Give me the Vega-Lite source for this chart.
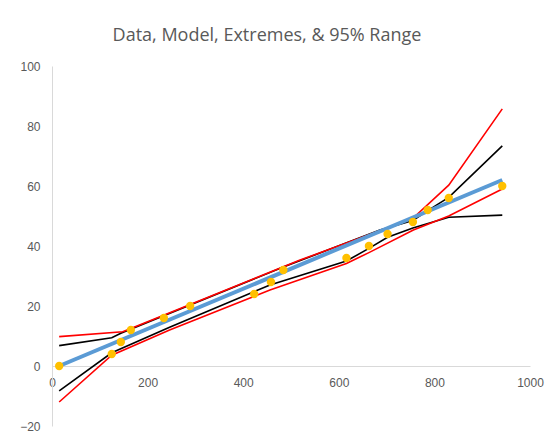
{
  "$schema": "https://vega.github.io/schema/vega-lite/v6.json",
  "width": 478,
  "height": 360,
  "autosize": {"type": "none"},
  "padding": {"left": 52, "top": 66, "right": 26, "bottom": 14},
  "background": "white",
  "title": {
    "text": "Data, Model, Extremes, & 95% Range",
    "font": "Open Sans",
    "fontSize": 18,
    "fontWeight": "normal",
    "color": "#595959",
    "anchor": "middle",
    "dx": -24,
    "offset": 15
  },
  "config": {
    "view": {"stroke": null},
    "axis": {
      "grid": false,
      "ticks": false,
      "domainColor": "#d9d9d9",
      "domainWidth": 1,
      "labelColor": "#595959",
      "labelFont": "Liberation Sans",
      "labelFontSize": 12,
      "labelFlush": false,
      "title": null
    }
  },
  "datasets": {
    "data": [
      {"x": 15, "y": 0}, {"x": 125, "y": 4}, {"x": 144, "y": 8}, {"x": 165, "y": 12},
      {"x": 234, "y": 16}, {"x": 289, "y": 20}, {"x": 423, "y": 24}, {"x": 458, "y": 28},
      {"x": 484, "y": 32}, {"x": 616, "y": 36}, {"x": 663, "y": 40}, {"x": 702, "y": 44},
      {"x": 755, "y": 48}, {"x": 786, "y": 52}, {"x": 830, "y": 56}, {"x": 942, "y": 60}
    ],
    "model": [
      {"x": 15, "y": 0}, {"x": 942, "y": 62}
    ],
    "bounds": [
      {"series": "Upper Extreme", "x": 15, "y": 6.8},
      {"series": "Upper Extreme", "x": 125, "y": 9.4},
      {"series": "Upper Extreme", "x": 144, "y": 10.9},
      {"series": "Upper Extreme", "x": 289, "y": 20.3},
      {"series": "Upper Extreme", "x": 484, "y": 33},
      {"series": "Upper Extreme", "x": 686, "y": 45.3},
      {"series": "Upper Extreme", "x": 755, "y": 48.5},
      {"series": "Upper Extreme", "x": 786, "y": 51.8},
      {"series": "Upper Extreme", "x": 830, "y": 56.2},
      {"series": "Upper Extreme", "x": 942, "y": 73.4},
      {"series": "Lower Extreme", "x": 15, "y": -8.3},
      {"series": "Lower Extreme", "x": 125, "y": 4.4},
      {"series": "Lower Extreme", "x": 246, "y": 12.9},
      {"series": "Lower Extreme", "x": 456, "y": 27},
      {"series": "Lower Extreme", "x": 616, "y": 35},
      {"series": "Lower Extreme", "x": 663, "y": 39.2},
      {"series": "Lower Extreme", "x": 702, "y": 42.9},
      {"series": "Lower Extreme", "x": 755, "y": 46},
      {"series": "Lower Extreme", "x": 830, "y": 49.6},
      {"series": "Lower Extreme", "x": 942, "y": 50.3},
      {"series": "Upper 95%", "x": 15, "y": 9.8},
      {"series": "Upper 95%", "x": 148, "y": 11.4},
      {"series": "Upper 95%", "x": 165, "y": 12.5},
      {"series": "Upper 95%", "x": 519, "y": 35.3},
      {"series": "Upper 95%", "x": 755, "y": 49.2},
      {"series": "Upper 95%", "x": 830, "y": 60.3},
      {"series": "Upper 95%", "x": 942, "y": 85.7},
      {"series": "Lower 95%", "x": 15, "y": -12},
      {"series": "Lower 95%", "x": 125, "y": 3.6},
      {"series": "Lower 95%", "x": 246, "y": 12},
      {"series": "Lower 95%", "x": 456, "y": 25.3},
      {"series": "Lower 95%", "x": 616, "y": 34.2},
      {"series": "Lower 95%", "x": 663, "y": 37.8},
      {"series": "Lower 95%", "x": 756, "y": 45.3},
      {"series": "Lower 95%", "x": 830, "y": 50},
      {"series": "Lower 95%", "x": 942, "y": 59}
    ]
  },
  "encoding": {
    "x": {
      "field": "x", "type": "quantitative",
      "scale": {"domain": [0, 1000], "nice": false},
      "axis": {"values": [0, 200, 400, 600, 800, 1000], "format": "d", "offset": -60, "labelPadding": 11}
    },
    "y": {
      "field": "y", "type": "quantitative",
      "scale": {"domain": [-20, 100], "nice": false},
      "axis": {"values": [-20, 0, 20, 40, 60, 80, 100], "format": "d", "labelPadding": 12}
    }
  },
  "layer": [
    {
      "data": {"name": "bounds"},
      "mark": {"type": "line", "strokeWidth": 1.6},
      "encoding": {
        "color": {
          "field": "series", "type": "nominal", "legend": null,
          "scale": {
            "domain": ["Upper Extreme", "Lower Extreme", "Upper 95%", "Lower 95%"],
            "range": ["#000000", "#000000", "#ff0000", "#ff0000"]
          }
        },
        "order": {"field": "x", "type": "quantitative"}
      }
    },
    {
      "data": {"name": "model"},
      "mark": {"type": "line", "color": "#5b9bd5", "strokeWidth": 4},
      "encoding": {}
    },
    {
      "data": {"name": "data"},
      "mark": {"type": "point", "filled": true, "color": "#ffc000", "opacity": 1, "size": 70, "shape": "circle"},
      "encoding": {}
    }
  ]
}
